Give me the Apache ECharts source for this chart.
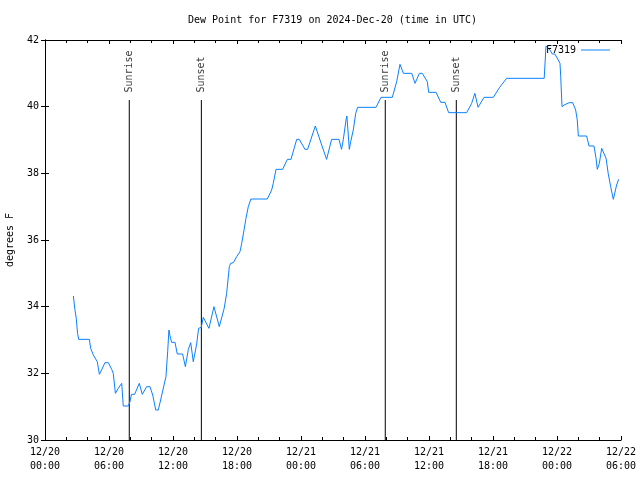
<!DOCTYPE html>
<html>
<head>
<meta charset="utf-8">
<script src="https://cdn.jsdelivr.net/npm/echarts@6/dist/echarts.min.js"></script>
<style>html,body{margin:0;padding:0;background:#fff;}#c{width:640px;height:480px;}</style>
</head>
<body>
<div id="c"></div>
<script>
// hours since 2024-12-20 00:00 UTC
const hours = [2.66,2.8,2.93,3.05,3.16,4.16,4.28,4.53,4.9,5.1,5.3,5.62,5.94,6.25,6.4,6.6,6.87,7.19,7.34,7.81,7.97,8.1,8.4,8.84,9.12,9.53,9.84,10.1,10.38,10.62,10.84,11.16,11.34,11.5,11.62,11.7,11.87,12.19,12.4,12.9,13.16,13.44,13.66,13.9,14.22,14.4,14.65,14.84,15.37,15.84,16.34,16.8,17.03,17.28,17.4,17.66,17.97,18.28,18.44,18.66,18.84,19.06,19.3,20.84,21.25,21.4,21.66,22.28,22.72,23.06,23.6,23.84,24.37,24.62,25.34,25.94,26.4,26.87,27.56,27.8,27.97,28.22,28.3,28.4,28.53,28.66,28.9,29.13,29.31,31.03,31.5,32.56,32.97,33.28,33.6,34.38,34.69,34.85,35.1,35.37,35.84,35.97,36.66,37.1,37.5,37.84,39.53,40.0,40.3,40.6,41.16,42.03,42.6,43.28,46.8,46.97,47.34,47.56,47.8,48.12,48.28,48.35,48.47,48.66,49.15,49.47,49.75,49.9,50.0,50.78,51.0,51.47,51.66,51.78,51.97,52.19,52.28,52.6,52.8,53.03,53.28,53.59,53.78];
const dewF = [34.32,33.92,33.65,33.2,33.02,33.02,32.75,32.55,32.35,31.97,32.1,32.32,32.32,32.12,32.0,31.4,31.55,31.7,31.02,31.02,31.15,31.37,31.37,31.7,31.37,31.6,31.6,31.35,30.9,30.9,31.2,31.65,31.9,32.65,33.3,33.15,32.93,32.93,32.58,32.58,32.2,32.72,32.92,32.35,32.88,33.35,33.38,33.68,33.35,34.0,33.4,33.95,34.4,35.2,35.3,35.32,35.5,35.65,35.9,36.3,36.65,37.0,37.23,37.23,37.5,37.7,38.12,38.12,38.42,38.42,39.02,39.02,38.72,38.72,39.42,38.85,38.42,39.02,39.02,38.72,39.02,39.6,39.72,39.3,38.72,38.95,39.3,39.8,39.98,39.98,40.28,40.28,40.75,41.27,41.0,41.0,40.7,40.7,41.0,41.0,40.75,40.43,40.43,40.13,40.13,39.82,39.82,40.1,40.4,39.98,40.28,40.28,40.57,40.85,40.85,41.82,41.7,41.58,41.58,41.4,41.3,40.9,40.0,40.05,40.12,40.12,39.9,39.6,39.12,39.12,38.82,38.82,38.45,38.12,38.3,38.75,38.8,38.45,38.0,37.6,37.22,37.65,37.82];
const sunHours = [7.9, 14.66, 31.9, 38.56];
const sunNames = ['Sunrise', 'Sunset', 'Sunrise', 'Sunset'];
const sunLineTop = 40.2;
const xTicks = [0, 54, 6];   // min, max, interval (hours)
const yTicks = [30, 42, 2];
const seriesName = 'F7319';
const titleText = 'Dew Point for F7319 on 2024-Dec-20 (time in UTC)';
const yName = 'degrees F';

const FONT = 'DejaVu Sans Mono';
const LINE_COLOR = '#0a80ff';
const chart = echarts.init(document.getElementById('c'), null, {renderer: 'canvas'});

function xLabel(h) {
  const day = 20 + Math.floor(h / 24);
  const hh = h % 24;
  return '12/' + day + '\n' + String(hh).padStart(2, '0') + ':00';
}

const series = [{
  name: seriesName,
  type: 'line',
  data: hours.map((h, i) => [h, dewF[i]]),
  symbol: 'none',
  lineStyle: {color: LINE_COLOR, width: 1},
  itemStyle: {color: LINE_COLOR},
  z: 3,
  animation: false
}];
sunHours.forEach((h, i) => {
  series.push({
    type: 'line',
    data: [[h, yTicks[0]], [h, sunLineTop]],
    symbol: 'none',
    lineStyle: {color: '#000', width: 1},
    silent: true,
    z: 2,
    animation: false
  });
  series.push({
    type: 'scatter',
    data: [[h, sunLineTop]],
    symbol: 'circle',
    symbolSize: 1,
    itemStyle: {color: 'rgba(0,0,0,0)'},
    label: {
      show: true,
      formatter: sunNames[i],
      position: 'top',
      distance: 7,
      rotate: 90,
      align: 'left',
      verticalAlign: 'middle',
      fontFamily: FONT,
      fontSize: 10,
      color: '#000'
    },
    silent: true,
    animation: false
  });
});

const axisCommon = {
  axisLine: {show: true, lineStyle: {color: '#000', width: 1}},
  splitLine: {show: false}
};

chart.setOption({
  animation: false,
  backgroundColor: '#fff',
  title: {
    text: titleText,
    left: 183,
    top: 10,
    textStyle: {fontFamily: FONT, fontSize: 10, fontWeight: 'normal', color: '#000'}
  },
  legend: {
    data: [{name: seriesName, icon: 'rect'}],
    right: 25,
    top: 40,
    align: 'right',
    itemWidth: 29,
    itemHeight: 1,
    itemGap: 5,
    itemStyle: {color: LINE_COLOR},
    textStyle: {fontFamily: FONT, fontSize: 10, color: '#000'}
  },
  grid: {left: 45, right: 19, top: 40, bottom: 40, containLabel: false, outerBoundsMode: 'none'},
  xAxis: [
    Object.assign({
      type: 'value', position: 'bottom',
      min: xTicks[0], max: xTicks[1], interval: xTicks[2],
      axisTick: {show: true, inside: true, length: 4, lineStyle: {color: '#000'}},
      minorTick: {show: true, splitNumber: 3, length: 3, lineStyle: {color: '#000'}},
      axisLabel: {formatter: xLabel, fontFamily: FONT, fontSize: 10, color: '#000', lineHeight: 14, margin: 5}
    }, axisCommon),
    Object.assign({
      type: 'value', position: 'top',
      min: xTicks[0], max: xTicks[1], interval: xTicks[2],
      axisTick: {show: true, inside: true, length: 4, lineStyle: {color: '#000'}},
      minorTick: {show: true, splitNumber: 3, length: 3, lineStyle: {color: '#000'}},
      axisLabel: {show: false}
    }, axisCommon)
  ],
  yAxis: [
    Object.assign({
      type: 'value', position: 'left',
      min: yTicks[0], max: yTicks[1], interval: yTicks[2],
      name: yName, nameLocation: 'middle', nameGap: 30, nameRotate: 90,
      nameTextStyle: {fontFamily: FONT, fontSize: 10, color: '#000'},
      axisTick: {show: true, inside: true, length: 4, lineStyle: {color: '#000'}},
      axisLabel: {fontFamily: FONT, fontSize: 10, color: '#000', margin: 6}
    }, axisCommon),
    Object.assign({
      type: 'value', position: 'right',
      min: yTicks[0], max: yTicks[1], interval: yTicks[2],
      axisTick: {show: true, inside: true, length: 4, lineStyle: {color: '#000'}},
      axisLabel: {show: false}
    }, axisCommon)
  ],
  series: series
});
</script>
</body>
</html>
